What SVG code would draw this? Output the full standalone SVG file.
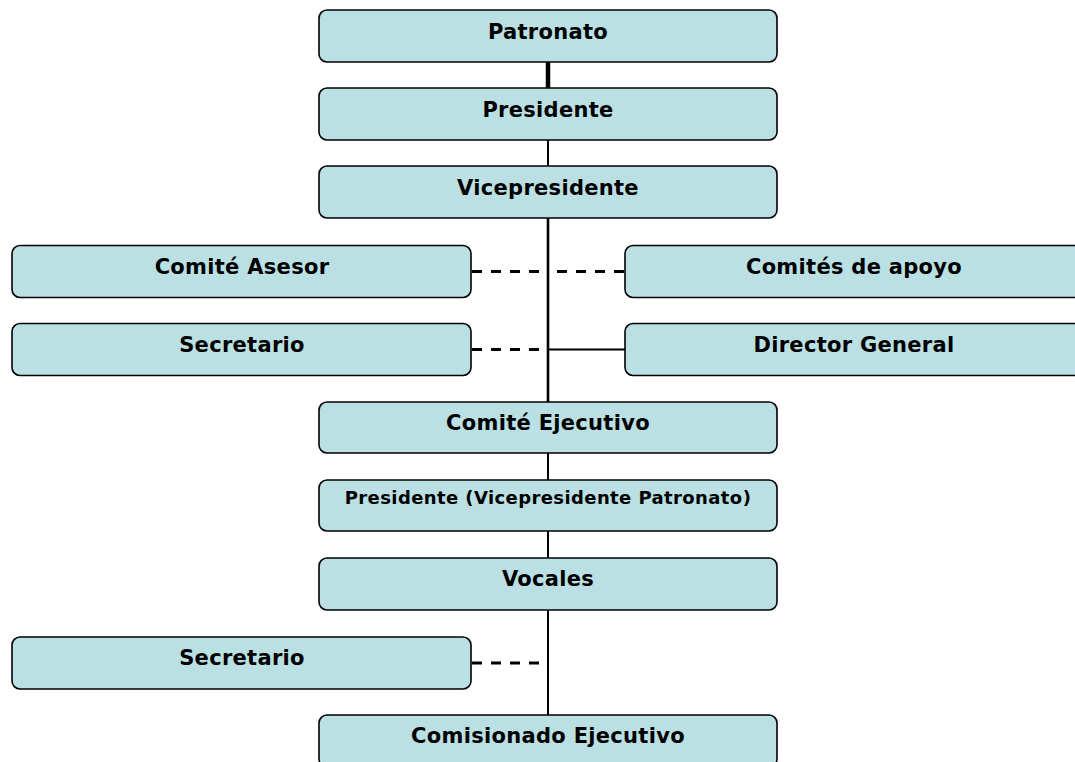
<svg xmlns="http://www.w3.org/2000/svg" width="1075" height="762" viewBox="0 0 1075 762">
<style>
.box{fill:#BAE0E3;stroke:#000;stroke-width:1.6}
.t{font-family:"DejaVu Sans",Verdana,sans-serif;font-weight:bold;font-size:21px;letter-spacing:0.3px;text-anchor:middle;fill:#000}
.s{font-size:18px;letter-spacing:0.4px}
.ln{stroke:#000;stroke-width:2;fill:none}
.dash{stroke:#000;stroke-width:2.8;fill:none;stroke-dasharray:10 9}
</style>
<rect width="1075" height="762" fill="#fff"/>
<g id="connectors">
<line class="ln" x1="548" y1="62" x2="548" y2="88" style="stroke-width:4.5"/>
<line class="ln" x1="548" y1="140" x2="548" y2="166"/>
<line class="ln" x1="548" y1="218" x2="548" y2="402" style="stroke-width:2.6"/>
<line class="dash" x1="472" y1="271.5" x2="548" y2="271.5"/>
<line class="dash" x1="624" y1="271.5" x2="548" y2="271.5"/>
<line class="dash" x1="472" y1="349.5" x2="548" y2="349.5"/>
<line class="ln" x1="548" y1="349.5" x2="625" y2="349.5"/>
<line class="ln" x1="548" y1="453" x2="548" y2="480"/>
<line class="ln" x1="548" y1="531" x2="548" y2="558"/>
<line class="ln" x1="548" y1="610" x2="548" y2="715"/>
<line class="dash" x1="472" y1="663" x2="548" y2="663"/>
</g>
<g id="patronato"><rect class="box" x="319" y="10" width="458" height="52" rx="8"/><text class="t" x="548" y="38.5">Patronato</text></g>
<g id="presidente"><rect class="box" x="319" y="88" width="458" height="52" rx="8"/><text class="t" x="548" y="117">Presidente</text></g>
<g id="vicepresidente"><rect class="box" x="319" y="166" width="458" height="52" rx="8"/><text class="t" x="548" y="195">Vicepresidente</text></g>
<g id="comite-asesor"><rect class="box" x="12" y="245.5" width="459" height="52" rx="8"/><text class="t" x="242" y="274">Comité Asesor</text></g>
<g id="comites-apoyo"><rect class="box" x="625" y="245.5" width="460" height="52" rx="8"/><text class="t" x="854" y="274">Comités de apoyo</text></g>
<g id="secretario-1"><rect class="box" x="12" y="323.5" width="459" height="52" rx="8"/><text class="t" x="242" y="352">Secretario</text></g>
<g id="director-general"><rect class="box" x="625" y="323.5" width="460" height="52" rx="8"/><text class="t" x="854" y="352">Director General</text></g>
<g id="comite-ejecutivo"><rect class="box" x="319" y="402" width="458" height="51" rx="8"/><text class="t" x="548" y="430">Comité Ejecutivo</text></g>
<g id="presidente-vp"><rect class="box" x="319" y="480" width="458" height="51" rx="8"/><text class="t s" x="548" y="504">Presidente (Vicepresidente Patronato)</text></g>
<g id="vocales"><rect class="box" x="319" y="558" width="458" height="52" rx="8"/><text class="t" x="548" y="586">Vocales</text></g>
<g id="secretario-2"><rect class="box" x="12" y="637" width="459" height="52" rx="8"/><text class="t" x="242" y="665">Secretario</text></g>
<g id="comisionado"><rect class="box" x="319" y="715" width="458" height="52" rx="8"/><text class="t" x="548" y="743">Comisionado Ejecutivo</text></g>
</svg>
